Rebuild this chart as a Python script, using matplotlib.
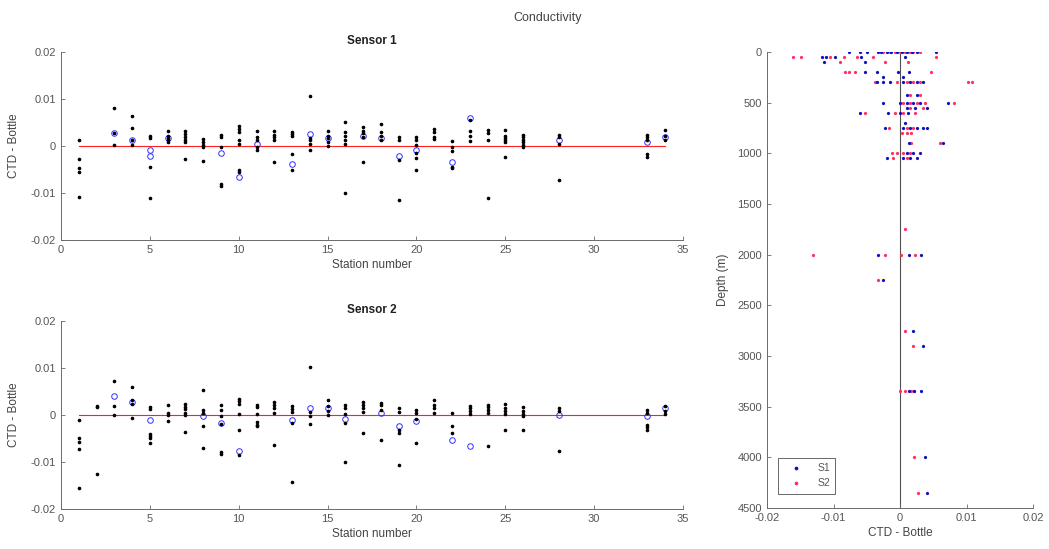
import matplotlib
matplotlib.use("Agg")
import matplotlib.pyplot as plt
import numpy as np

plt.rcParams['font.family'] = ['Liberation Sans', 'DejaVu Sans']
plt.rcParams['font.size'] = 8

# ---- Sensor 1: CTD - bottle conductivity difference per station ----
s1_stations = [1, 3, 4, 5, 6, 7, 8, 9, 10, 11, 12, 13, 14, 15, 16, 17, 18, 19, 20,
               21, 22, 23, 24, 25, 26, 28, 33, 34]
s1_values = [
    [0.0013, -0.0028, -0.0047, -0.0056, -0.0108],
    [0.0081, 0.0027, 0.0003],
    [0.0064, 0.0039, 0.0012, 0.0003],
    [0.0021, 0.0017, -0.0044, -0.0111],
    [0.0031, 0.0022, 0.0017, 0.0013, 0.0008],
    [0.0031, 0.0026, 0.0019, 0.0013, 0.0008, -0.0028],
    [0.0015, 0.0008, 0.0003, -0.0002, -0.0032],
    [0.0024, 0.0019, -0.0002, -0.0081, -0.0085],
    [0.0042, 0.0036, 0.0029, 0.0012, 0.0005, -0.0051, -0.0056],
    [0.0031, 0.0020, 0.0013, -0.0003, -0.0009],
    [0.0031, 0.0024, 0.0019, 0.0013, -0.0033],
    [0.0029, 0.0026, 0.0022, -0.0017, -0.0051],
    [0.0107, 0.0017, 0.0012, 0.0005, -0.0009],
    [0.0031, 0.0022, 0.0017, 0.0008, 0.0001],
    [0.0051, 0.0029, 0.0022, 0.0012, 0.0005, -0.0101],
    [0.0041, 0.0033, 0.0027, 0.0019, -0.0033],
    [0.0047, 0.0029, 0.0022, 0.0012],
    [0.0019, 0.0012, -0.0030, -0.0115],
    [0.0019, 0.0012, 0.0003, -0.0015, -0.0026, -0.0051],
    [0.0036, 0.0029, 0.0020, 0.0015],
    [0.0010, -0.0002, -0.0011, -0.0044, -0.0047],
    [0.0055, 0.0033, 0.0022, 0.0010],
    [0.0034, 0.0027, 0.0012, -0.0111],
    [0.0034, 0.0022, 0.0017, 0.0013, 0.0008, -0.0023],
    [0.0024, 0.0019, 0.0013, 0.0008, 0.0003, -0.0002],
    [0.0024, 0.0019, 0.0005, -0.0072],
    [0.0024, 0.0019, 0.0012, -0.0016, -0.0023],
    [0.0034, 0.0022, 0.0012],
]
s1_circle_station = [3, 4, 5, 5, 6, 9, 10, 11, 13, 14, 15, 17, 18, 19, 20, 22, 23, 28, 33, 34]
s1_circle_value = [0.0027, 0.0012, -0.0009, -0.0022, 0.0017, -0.0014, -0.0065, 0.0005,
                   -0.0038, 0.0026, 0.0017, 0.0022, 0.0017, -0.0022, -0.0009, -0.0034,
                   0.0060, 0.0012, 0.0008, 0.0019]

# ---- Sensor 2 ----
s2_stations = [1, 2, 3, 4, 5, 6, 7, 8, 9, 10, 11, 12, 13, 14, 15, 16, 17, 18, 19, 20,
               21, 22, 23, 24, 25, 26, 28, 33, 34]
s2_values = [
    [-0.0010, -0.0050, -0.0057, -0.0072, -0.0155],
    [0.0019, 0.0016, -0.0126],
    [0.0072, 0.0019, 0.0000],
    [0.0059, 0.0032, 0.0023, -0.0007],
    [0.0017, 0.0012, -0.0040, -0.0045, -0.0050, -0.0059],
    [0.0021, 0.0005, 0.0000, -0.0012],
    [0.0024, 0.0017, 0.0012, 0.0005, 0.0000, -0.0037],
    [0.0054, 0.0010, 0.0005, -0.0023, -0.0071],
    [0.0021, 0.0010, -0.0003, -0.0019, -0.0079, -0.0083],
    [0.0034, 0.0030, 0.0024, 0.0003, -0.0031, -0.0086],
    [0.0021, 0.0016, 0.0003, -0.0014, -0.0021, -0.0024],
    [0.0028, 0.0021, 0.0014, 0.0005, -0.0064],
    [0.0019, 0.0012, 0.0007, -0.0016, -0.0143],
    [0.0103, 0.0007, -0.0002, -0.0019],
    [0.0031, 0.0019, 0.0009, 0.0000],
    [0.0021, 0.0014, 0.0003, -0.0016, -0.0099],
    [0.0028, 0.0021, 0.0014, 0.0007, -0.0038],
    [0.0026, 0.0021, 0.0010, -0.0053],
    [0.0014, 0.0007, -0.0032, -0.0039, -0.0106],
    [0.0010, 0.0005, -0.0009, -0.0059],
    [0.0031, 0.0021, 0.0014, 0.0005],
    [0.0005, -0.0023, -0.0039],
    [0.0019, 0.0014, 0.0008, 0.0003],
    [0.0021, 0.0016, 0.0010, 0.0005, -0.0066],
    [0.0023, 0.0014, 0.0008, 0.0003, -0.0031],
    [0.0016, 0.0008, 0.0003, -0.0003, -0.0031],
    [0.0014, 0.0008, -0.0076],
    [0.0010, 0.0005, -0.0021, -0.0026, -0.0031],
    [0.0019, 0.0008, 0.0003],
]
s2_circle_station = [3, 4, 5, 8, 9, 10, 13, 14, 15, 16, 18, 19, 20, 22, 23, 28, 33, 34]
s2_circle_value = [0.0041, 0.0028, -0.0010, -0.0003, -0.0017, -0.0076, -0.0010, 0.0015,
                   0.0015, -0.0009, 0.0005, -0.0024, -0.0012, -0.0053, -0.0066, 0.0000,
                   -0.0003, 0.0014]

# ---- Difference against bottle depth ----
s1_depth = [0, 0, 0, 0, 0, 0, 0, 0, 0, 0, 0, 0, 0,
            50, 50, 50, 50, 50, 100, 100,
            200, 200, 200, 200, 250, 250,
            300, 300, 300, 300, 300, 300, 300,
            420, 420, 500, 500, 500, 500, 500, 500,
            550, 550, 550, 600, 600, 600, 600, 700,
            750, 750, 750, 750, 750, 750, 900, 900,
            1000, 1000, 1000, 1050, 1050, 1050, 1050,
            2000, 2000, 2000, 2250, 2750, 2900, 3350, 3350, 3350, 4000, 4350]
s1_diff = [-0.0033, -0.0028, -0.0020, -0.0013, -0.0005, 0.0003, 0.0010, 0.0018, 0.0025,
           0.0054, -0.0076, -0.0060, -0.0049,
           -0.0118, -0.0111, -0.0098, -0.0058, 0.0008, -0.0115, -0.0053,
           -0.0052, -0.0035, 0.0013, -0.0003, -0.0025, 0.0005,
           -0.0035, -0.0025, -0.0015, 0.0005, 0.0015, 0.0025, 0.0035,
           0.0010, 0.0025, -0.0025, 0.0000, 0.0010, 0.0020, 0.0030, 0.0072,
           0.0010, 0.0022, 0.0040, -0.0060, -0.0018, 0.0000, 0.0012, 0.0008,
           -0.0023, 0.0005, 0.0015, 0.0025, 0.0035, 0.0040, 0.0013, 0.0065,
           0.0010, 0.0020, 0.0030, -0.0020, 0.0005, 0.0015, 0.0025,
           -0.0033, 0.0014, 0.0032, -0.0026, 0.0020, 0.0034, 0.0013, 0.0021, 0.0032,
           0.0037, 0.0041]
s2_depth = [0, 0, 0, 0, 0, 0, 0, 0,
            50, 50, 50, 50, 50, 50, 50, 100, 100, 100,
            200, 200, 200, 200,
            300, 300, 300, 300, 300, 300, 300,
            420, 420, 500, 500, 500, 500, 500,
            550, 550, 600, 600, 600, 600,
            750, 750, 750, 800, 800, 800, 900, 900,
            1000, 1000, 1000, 1000, 1050, 1050, 1750,
            2000, 2000, 2000, 2000, 2250, 2750, 2900, 3350, 3350, 3350, 3350, 4000, 4350]
s2_diff = [-0.0025, -0.0015, -0.0008, 0.0000, 0.0008, 0.0015, 0.0020, 0.0030,
           -0.0161, -0.0149, -0.0106, -0.0085, -0.0065, -0.0040, 0.0054,
           -0.0090, -0.0022, 0.0012,
           -0.0083, -0.0076, -0.0068, 0.0046,
           -0.0038, -0.0005, 0.0010, 0.0020, 0.0030, 0.0102, 0.0108,
           0.0015, 0.0030, 0.0005, 0.0015, 0.0025, 0.0038, 0.0081,
           0.0015, 0.0035, -0.0053, -0.0008, 0.0005, 0.0022,
           -0.0016, 0.0010, 0.0020, 0.0003, 0.0010, 0.0017, 0.0017, 0.0060,
           -0.0012, -0.0005, 0.0005, 0.0015, -0.0011, 0.0010, 0.0008,
           -0.0131, -0.0023, 0.0002, 0.0022, -0.0033, 0.0008, 0.0020,
           0.0000, 0.0008, 0.0016, 0.0021, 0.0021, 0.0027]

AX_GRAY = '#6a6a6a'
TICK_TEXT = '#555555'
LABEL_TEXT = '#444444'


def style_axes(ax):
    ax.spines['top'].set_visible(False)
    ax.spines['right'].set_visible(False)
    for s in ('left', 'bottom'):
        ax.spines[s].set_color(AX_GRAY)
        ax.spines[s].set_linewidth(0.7)
    ax.tick_params(direction='in', length=3, width=0.6, colors=AX_GRAY,
                   labelcolor=TICK_TEXT, labelsize=8)


def station_panel(ax, stations, values, cst, cval, title):
    xs = np.concatenate([[st] * len(v) for st, v in zip(stations, values)])
    ys = np.concatenate(values)
    ax.plot([1, 34], [0, 0], color='#ff2020', lw=0.8, zorder=1)
    ax.plot(xs, ys, '.', color='black', ms=3.2, zorder=3)
    ax.plot(cst, cval, 'o', mfc='none', mec='#3030ff', ms=4, mew=0.7, zorder=2)
    ax.set_xlim(0, 35)
    ax.set_ylim(-0.02, 0.02)
    ax.set_xticks(np.arange(0, 36, 5))
    ax.set_yticks([-0.02, -0.01, 0, 0.01, 0.02])
    ax.set_yticklabels(['-0.02', '-0.01', '0', '0.01', '0.02'])
    ax.set_xlabel('Station number', fontsize=8.5, color=LABEL_TEXT, labelpad=3)
    ax.set_ylabel('CTD - Bottle', fontsize=8.5, color=LABEL_TEXT, labelpad=8)
    ax.set_title(title, fontsize=8.5, fontweight='bold', color='#202020', pad=6)
    style_axes(ax)


fig = plt.figure(figsize=(10.49, 5.49), dpi=100)

ax1 = fig.add_axes([0.0582, 0.5628, 0.5929, 0.3424])
station_panel(ax1, s1_stations, s1_values, s1_circle_station, s1_circle_value, 'Sensor 1')

ax2 = fig.add_axes([0.0582, 0.0729, 0.5929, 0.3424])
station_panel(ax2, s2_stations, s2_values, s2_circle_station, s2_circle_value, 'Sensor 2')

ax3 = fig.add_axes([0.7312, 0.0747, 0.2536, 0.8306])
ax3.plot([0, 0], [0, 4500], color='#505050', lw=0.8, zorder=1)
ax3.plot(s1_diff, s1_depth, '.', color='#1010c0', ms=2.6, label='S1', zorder=3)
ax3.plot(s2_diff, s2_depth, '.', color='#ff3060', ms=2.6, label='S2', zorder=2)
ax3.set_xlim(-0.02, 0.02)
ax3.set_ylim(4500, 0)
ax3.set_xticks([-0.02, -0.01, 0, 0.01, 0.02])
ax3.set_xticklabels(['-0.02', '-0.01', '0', '0.01', '0.02'])
ax3.set_yticks(np.arange(0, 4501, 500))
ax3.set_xlabel('CTD - Bottle', fontsize=8.5, color=LABEL_TEXT, labelpad=3)
ax3.set_ylabel('Depth (m)', fontsize=8.5, color=LABEL_TEXT, labelpad=6)
style_axes(ax3)
leg = ax3.legend(loc='lower left', fontsize=7.5, frameon=True, fancybox=False,
                 edgecolor='#404040', borderpad=0.5, handlelength=2.5,
                 markerscale=1.3, bbox_to_anchor=(0.02, 0.02), labelcolor=TICK_TEXT)
leg.get_frame().set_linewidth(0.7)

fig.text(0.522, 0.967, 'Conductivity', ha='center', va='center', fontsize=9,
         color=LABEL_TEXT)

fig.savefig('out.png', dpi=100)
